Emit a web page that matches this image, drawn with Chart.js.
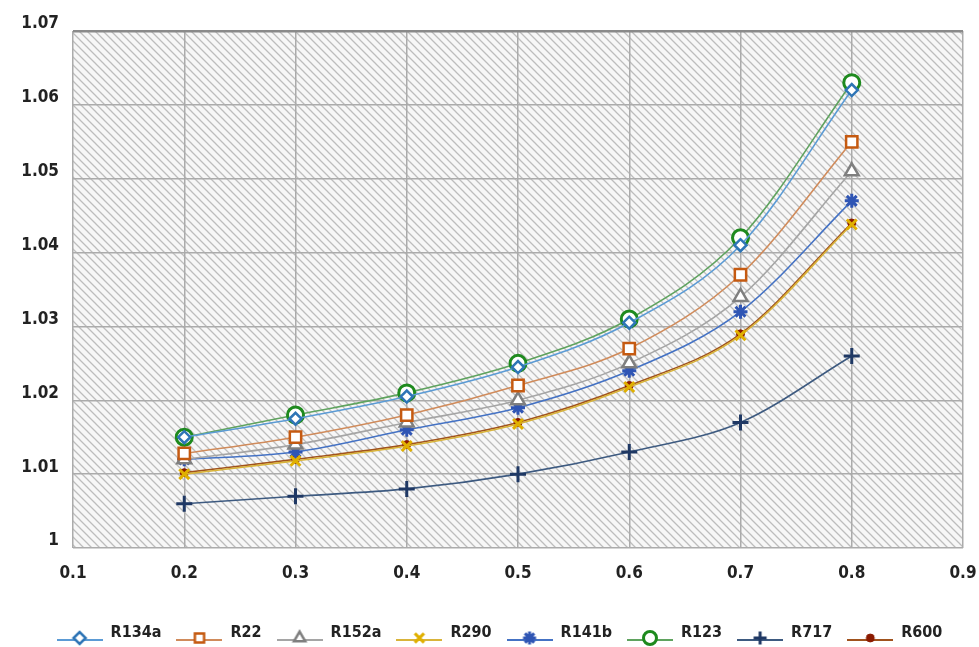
<!DOCTYPE html>
<html>
<head>
<meta charset="utf-8">
<script src="https://cdn.jsdelivr.net/npm/chart.js@4.4.1/dist/chart.umd.min.js"></script>
<style>
  html, body { margin: 0; padding: 0; background: #fff; overflow: hidden; }
</style>
</head>
<body>
<canvas id="myChart" width="979" height="647"></canvas>
<script>
const xValues = [0.2, 0.3, 0.4, 0.5, 0.6, 0.7, 0.8];

const r134a = [1.0150, 1.0175, 1.0205, 1.0245, 1.0305, 1.0410, 1.0620];
const r22   = [1.0128, 1.0150, 1.0180, 1.0220, 1.0270, 1.0370, 1.0550];
const r152a = [1.0120, 1.0140, 1.0170, 1.0200, 1.0250, 1.0340, 1.0510];
const r290  = [1.0100, 1.0118, 1.0138, 1.0168, 1.0218, 1.0288, 1.0438];
const r141b = [1.0120, 1.0130, 1.0160, 1.0190, 1.0240, 1.0320, 1.0470];
const r123  = [1.0150, 1.0180, 1.0210, 1.0250, 1.0310, 1.0420, 1.0630];
const r717  = [1.0060, 1.0070, 1.0080, 1.0100, 1.0130, 1.0170, 1.0260];
const r600  = [1.0102, 1.0120, 1.0140, 1.0170, 1.0220, 1.0290, 1.0440];

const FONT = "'Liberation Sans Narrow', 'DejaVu Sans Condensed', 'Liberation Sans', sans-serif";

// marker picture for the legend: a short line with the point style in the middle
function legendIcon(style, lineColor, markColor, fill, radius, lw) {
    const c = document.createElement('canvas');
    c.width = 46; c.height = 26;
    const g = c.getContext('2d');
    g.strokeStyle = lineColor;
    g.lineWidth = 2;
    g.beginPath();
    g.moveTo(0, 20); g.lineTo(46, 20);
    g.stroke();
    g.strokeStyle = markColor;
    g.fillStyle = fill;
    g.lineWidth = lw;
    Chart.helpers.drawPoint(g, { pointStyle: style, radius: radius, rotation: 0, borderWidth: lw }, 23, 18);
    return c;
}

function makeSet(label, data, line, mark, fill, style, radius, lw) {
    return {
        label: label,
        data: data.map((v, i) => ({ x: xValues[i], y: v })),
        borderColor: line,
        borderWidth: 1.6,
        pointStyle: style,
        pointRadius: radius,
        pointBorderColor: mark,
        pointBackgroundColor: fill,
        pointBorderWidth: lw,
        legendIcon: legendIcon(style, line, mark, fill, Math.min(radius, 6.5), lw),
        tension: 0.4,
        cubicInterpolationMode: 'monotone',
        fill: false
    };
}

const datasets = [
    makeSet('R134a', r134a, '#5b9bd5', '#2e75b6', '#ffffff', 'rectRot', 6, 2.5),
    makeSet('R22',   r22,   '#d08b5b', '#c55a11', '#ffffff', 'rect',    8, 2.5),
    makeSet('R152a', r152a, '#a5a5a5', '#7f7f7f', '#ffffff', 'triangle', 8, 2.5),
    makeSet('R290',  r290,  '#d9b43a', '#e0b000', '#e0b000', 'crossRot', 7, 3),
    makeSet('R141b', r141b, '#4472c4', '#2f55b4', '#2f55b4', 'star',    7, 3),
    makeSet('R123',  r123,  '#5fa35f', '#1e8a1e', '#ffffff', 'circle',  8, 3),
    makeSet('R717',  r717,  '#3d5a80', '#1f3864', '#1f3864', 'cross',   8, 3),
    makeSet('R600',  r600,  '#a0521d', '#8b1a00', '#8b1a00', 'circle',  4, 1)
];

// hatched plot background
const hatch = {
    id: 'hatch',
    afterLayout(chart) {
        // legend sits a little right of centre in the original
        chart.legend.left += 18;
        chart.legend.right += 18;
    },
    beforeDraw(chart) {
        const a = chart.chartArea;
        const ctx = chart.ctx;
        const t = document.createElement('canvas');
        t.width = 8; t.height = 8;
        const g = t.getContext('2d');
        g.fillStyle = '#f7f7f7';
        g.fillRect(0, 0, 8, 8);
        g.strokeStyle = '#bdbdbd';
        g.lineWidth = 1.3;
        g.beginPath();
        g.moveTo(-1, -1); g.lineTo(9, 9);
        g.moveTo(-1, 7); g.lineTo(1, 9);
        g.moveTo(7, -1); g.lineTo(9, 1);
        g.stroke();
        ctx.save();
        ctx.fillStyle = ctx.createPattern(t, 'repeat');
        ctx.fillRect(a.left, a.top, a.right - a.left, a.bottom - a.top);
        ctx.restore();
    }
};

const ctx = document.getElementById('myChart').getContext('2d');
new Chart(ctx, {
    type: 'line',
    data: { datasets: datasets },
    plugins: [hatch],
    options: {
        responsive: false,
        animation: false,
        layout: { padding: { left: 0, right: 16, top: 31, bottom: -4 } },
        plugins: {
            tooltip: { enabled: false },
            legend: {
                position: 'bottom',
                labels: {
                    usePointStyle: true,
                    pointStyleWidth: 46,
                    padding: 15,
                    color: '#222',
                    font: { family: FONT, size: 16, weight: 'bold' },
                    generateLabels(chart) {
                        return chart.data.datasets.map((ds, i) => ({
                            text: ds.label,
                            pointStyle: ds.legendIcon,
                            fillStyle: ds.pointBackgroundColor,
                            strokeStyle: ds.borderColor,
                            lineWidth: 0,
                            datasetIndex: i,
                            fontColor: '#222'
                        }));
                    }
                }
            }
        },
        scales: {
            x: {
                type: 'linear',
                min: 0.1,
                max: 0.9,
                afterFit(s) { s.height = 62; s.paddingLeft = 0; s.paddingRight = 0; },
                ticks: {
                    stepSize: 0.1,
                    color: '#222',
                    padding: 15,
                    font: { family: FONT, size: 17, weight: 'bold' },
                    callback: v => v.toFixed(1)
                },
                grid: { color: '#ababab', lineWidth: 1.5, drawTicks: false },
                border: { display: false }
            },
            y: {
                min: 1,
                max: 1.07,
                afterFit(s) { s.width = 73; },
                ticks: {
                    stepSize: 0.01,
                    color: '#222',
                    padding: 14,
                    labelOffset: -7,
                    font: { family: FONT, size: 17, weight: 'bold' },
                    callback: v => String(parseFloat(v.toFixed(2)))
                },
                grid: {
                    color: ctx => ctx.index === 7 ? '#8a8a8a' : '#ababab',
                    lineWidth: ctx => ctx.index === 7 ? 2.5 : 1.5,
                    drawTicks: false
                },
                border: { display: false }
            }
        }
    }
});
</script>
</body>
</html>
